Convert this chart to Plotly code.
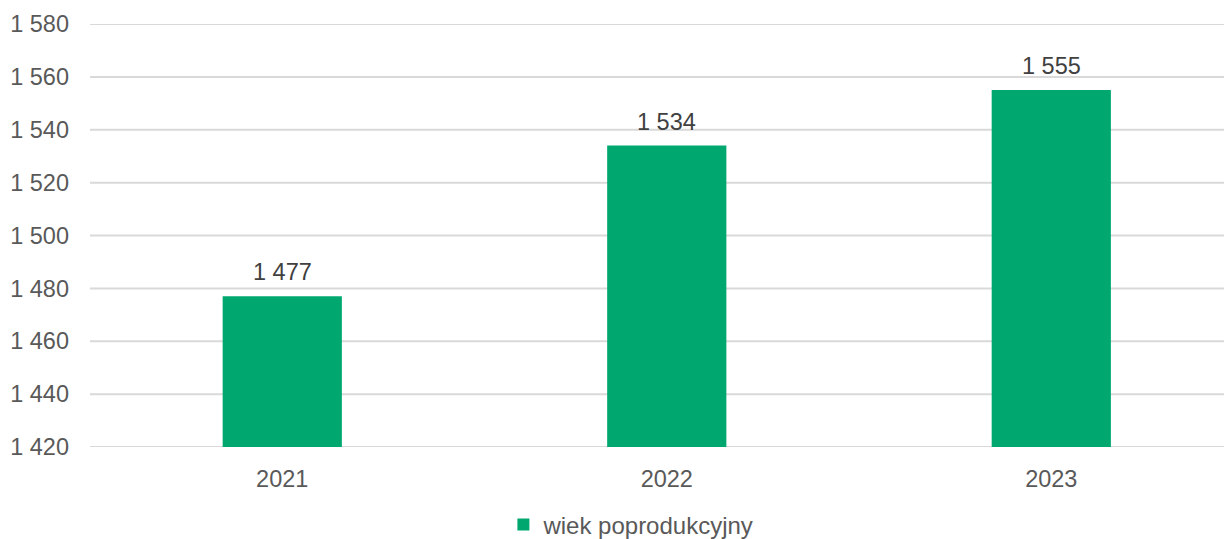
import plotly.graph_objects as go

years = ["2021", "2022", "2023"]
values = [1477, 1534, 1555]
series_name = "wiek poprodukcyjny"
y_ticks = [1420, 1440, 1460, 1480, 1500, 1520, 1540, 1560, 1580]

GREEN = "#00A870"
TEXT = "#595959"
LABEL = "#404040"
GRID = "#D9D9D9"
FONT = "Liberation Sans, Arial, sans-serif"
FS = 23.5

fig = go.Figure()
fig.add_trace(go.Bar(
    x=years, y=values, name=series_name,
    marker=dict(color=GREEN, line=dict(width=0)),
    width=0.31,
))

# horizontal gridlines at the tick values (drawn below the bars)
for t in y_ticks:
    fig.add_shape(type="line", xref="paper", x0=0, x1=1, yref="y", y0=t, y1=t,
                  line=dict(color=GRID, width=2), layer="below")

# data labels above bars
for i, v in enumerate(values):
    fig.add_annotation(x=i, y=v, xref="x", yref="y",
                       text=f"{v:,}".replace(",", " "),
                       showarrow=False, yanchor="bottom", yshift=9,
                       font=dict(size=FS, color=LABEL, family=FONT))

fig.update_layout(
    width=1224, height=531,
    margin=dict(l=82, r=0, t=16, b=92, autoexpand=False),
    paper_bgcolor="white", plot_bgcolor="white",
    separators=", ",
    font=dict(family=FONT, size=FS, color=TEXT),
    showlegend=True,
    legend=dict(orientation="h", x=0.362, xanchor="left", y=-0.131, yanchor="top",
                font=dict(size=24, color=TEXT), itemwidth=30),
)
fig.update_xaxes(type="category", range=[-0.5, 2.47], showgrid=False, showline=False,
                 ticks="", tickfont=dict(size=FS, color=TEXT), ticklabelstandoff=15,
                 automargin=False)
fig.update_yaxes(range=[1420, 1580], tickvals=y_ticks, tickformat=",d",
                 showgrid=False, zeroline=False,
                 showline=False, ticks="", tickfont=dict(size=FS, color=TEXT),
                 ticklabelstandoff=20, automargin=False)

fig.write_html("out.html")
